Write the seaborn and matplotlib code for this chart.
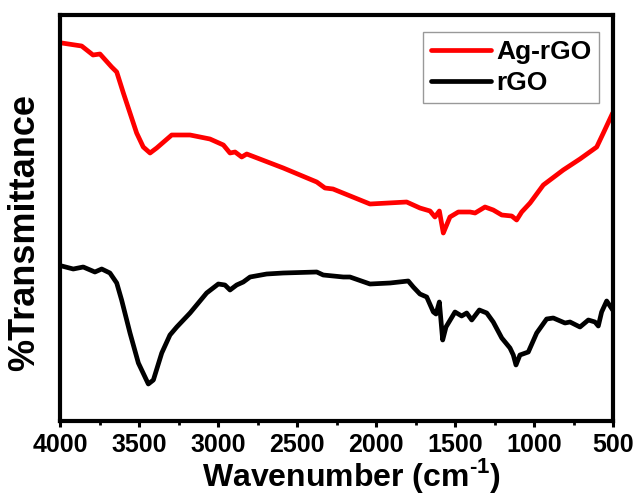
import numpy as np
import pandas as pd
import matplotlib
matplotlib.use("Agg")
import matplotlib.pyplot as plt
from matplotlib import font_manager
from matplotlib.ticker import MultipleLocator
import seaborn as sns

# Ag-rGO spectrum (wavenumber, transmittance a.u.)
ag_wn = [3989, 3863, 3791, 3747, 3673, 3641, 3599, 3557, 3515, 3473, 3430, 3388,
         3293, 3177, 3051, 2966, 2924, 2892, 2850, 2818, 2587, 2375, 2323, 2272,
         2038, 1806, 1722, 1658, 1627, 1599, 1574, 1532, 1479, 1405, 1373, 1310,
         1258, 1204, 1141, 1110, 1078, 1025, 941, 815, 709, 603, 561, 502]
ag_t = [376, 373, 364, 365, 352, 347, 326, 306, 286, 272, 266, 271,
        284, 284, 280, 274, 266, 267, 262, 265, 251, 237, 231, 230,
        215, 217, 211, 208, 202, 208, 186, 202, 207, 207, 206, 212,
        209, 204, 203, 199, 207, 216, 234, 249, 260, 272, 286, 306]

# rGO spectrum
rgo_wn = [3989, 3916, 3853, 3779, 3736, 3684, 3641, 3610, 3557, 3504, 3441, 3409,
          3356, 3304, 3261, 3177, 3072, 2998, 2956, 2924, 2882, 2840, 2797, 2692,
          2587, 2375, 2334, 2207, 2165, 2038, 1911, 1796, 1764, 1722, 1679, 1637,
          1620, 1599, 1578, 1557, 1500, 1458, 1426, 1394, 1346, 1299, 1258, 1204,
          1152, 1131, 1114, 1089, 1036, 983, 920, 878, 804, 772, 709, 656, 614,
          593, 572, 540, 502]
rgo_t = [153, 150, 152, 147, 150, 146, 136, 119, 86, 56, 35, 39,
         66, 84, 92, 106, 126, 135, 134, 129, 134, 137, 142, 145,
         146, 147, 144, 142, 142, 135, 136, 138, 132, 125, 122, 107,
         105, 117, 79, 92, 107, 103, 106, 99, 109, 106, 97, 81,
         71, 64, 54, 64, 67, 86, 100, 101, 96, 97, 92, 99, 97,
         93, 107, 118, 109]

series_names = ["Ag-rGO", "rGO"]
series_colors = ["#ff0000", "#000000"]
x_ticks = [4000, 3500, 3000, 2500, 2000, 1500, 1000, 500]

df = pd.concat([
    pd.DataFrame({"Wavenumber": ag_wn, "T": ag_t, "Sample": series_names[0]}),
    pd.DataFrame({"Wavenumber": rgo_wn, "T": rgo_t, "Sample": series_names[1]}),
])

sns.set_theme(style="white")
names = {f.name for f in font_manager.fontManager.ttflist}
main_font = "Liberation Sans" if "Liberation Sans" in names else "DejaVu Sans"
plt.rcParams["font.family"] = [main_font, "DejaVu Sans"]
plt.rcParams.update({
    "text.color": "black", "axes.labelcolor": "black",
    "xtick.color": "black", "ytick.color": "black",
    "mathtext.fontset": "custom",
    "mathtext.rm": f"{main_font}:bold",
    "mathtext.bf": f"{main_font}:bold",
})

fig = plt.figure(figsize=(6.38, 5.01), dpi=100)
ax = fig.add_axes([60/638, 1 - 421/501, 553/638, 406/501])

sns.lineplot(data=df, x="Wavenumber", y="T", hue="Sample", hue_order=series_names,
             palette=dict(zip(series_names, series_colors)), estimator=None,
             linewidth=3.4, ax=ax)

ax.set_xlim(4000, 500)
ax.set_ylim(-2, 404)
ax.set_xticks(x_ticks)
ax.xaxis.set_minor_locator(MultipleLocator(250))
ax.set_xticklabels([str(t) for t in x_ticks], fontsize=18, fontweight="bold")
ax.set_yticks([])
ax.tick_params(axis="x", which="major", direction="out", length=4.5, width=2.2,
               color="black", pad=4, bottom=True)
ax.tick_params(axis="x", which="minor", direction="out", length=3, width=2.0,
               color="black", bottom=True)
for s in ax.spines.values():
    s.set_linewidth(3.0)
    s.set_color("black")

ax.set_xlabel("Wavenumber (cm$^{\\text{-1}}$)", fontsize=23, fontweight="bold")
ax.xaxis.set_label_coords(0.528, -0.086)
ax.set_ylabel("%Transmittance", fontsize=26, fontweight="bold")
ax.yaxis.set_label_coords(-0.033, 0.465)

leg = ax.legend(loc="upper right", bbox_to_anchor=(0.975, 0.957),
                prop={"weight": "bold", "size": 19}, frameon=True, fancybox=False,
                handlelength=2.25, handletextpad=0.2, borderpad=0.3, labelspacing=0.25,
                borderaxespad=0)
leg.get_frame().set_edgecolor("#808080")
leg.get_frame().set_linewidth(1.0)
for line in leg.get_lines():
    line.set_linewidth(3.4)

fig.savefig("out.png", dpi=100)
